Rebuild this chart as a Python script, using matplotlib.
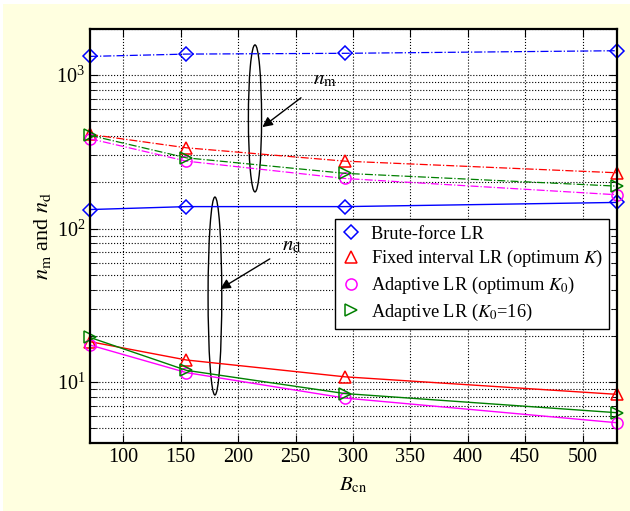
import matplotlib
matplotlib.use("Agg")
import matplotlib.pyplot as plt
from matplotlib.lines import Line2D
from matplotlib.patches import Ellipse, Rectangle

plt.rcParams['font.family'] = ['Liberation Serif', 'DejaVu Serif']
plt.rcParams['mathtext.fontset'] = 'stix'

B_cn = [71, 155, 293, 530]

# n_m (dash-dot) curves
bf_nm = [1325, 1372, 1388, 1443]
fixed_nm = [411, 336, 275, 231]
adapt_opt_nm = [385, 275, 212, 166]
adapt16_nm = [405, 289, 229, 189]

# n_d (solid) curves
bf_nd = [133, 139, 139, 148]
fixed_nd = [18.3, 13.9, 10.8, 8.3]
adapt_opt_nd = [17.4, 11.5, 7.85, 5.42]
adapt16_nd = [19.5, 11.9, 8.4, 6.3]

labels = ['Brute-force LR',
          'Fixed interval LR (optimum $K$)',
          'Adaptive LR (optimum $K_0$)',
          'Adaptive LR ($K_0$=16)']
colors = ['#0000ff', '#ff0000', '#ff00ff', '#008000']
markers = ['D', '^', 'o', '>']
sizes = [7.5, 9, 8, 9]

fig = plt.figure(figsize=(6.3, 5.11), dpi=100, facecolor='white')
fig.patches.append(Rectangle((3 / 630, 0), 1, 1 - 4 / 511, transform=fig.transFigure,
                             facecolor='#ffffe0', edgecolor='none', zorder=-10))
ax = fig.add_axes([0.1429, 0.1331, 0.8365, 0.8102])

nm_sets = [bf_nm, fixed_nm, adapt_opt_nm, adapt16_nm]
nd_sets = [bf_nd, fixed_nd, adapt_opt_nd, adapt16_nd]
for i in range(4):
    mk = dict(marker=markers[i], markersize=sizes[i], markerfacecolor='none',
              markeredgecolor=colors[i], markeredgewidth=1.1, clip_on=False)
    ax.plot(B_cn, nm_sets[i], color=colors[i], linestyle='-.', linewidth=0.9, **mk)
    ax.plot(B_cn, nd_sets[i], color=colors[i], linestyle='-', linewidth=1.0, **mk)

ax.set_yscale('log')
ax.set_xlim(71, 530)
ax.set_ylim(4, 2000)
ax.set_xticks([100, 150, 200, 250, 300, 350, 400, 450, 500])
ax.grid(True, which='major', color='black', linestyle=':', linewidth=0.8)
ax.grid(True, which='minor', axis='y', color='black', linestyle=':', linewidth=0.8)
ax.tick_params(which='both', direction='in', top=True, right=True, labelsize=14.5)
ax.tick_params(which='major', length=6)
ax.tick_params(which='minor', length=4)
for s in ax.spines.values():
    s.set_linewidth(1.6)

ax.set_xlabel('$B_{\\mathrm{cn}}$', fontsize=15, labelpad=6)
ax.set_ylabel('$n_{\\mathrm{m}}$ and $n_{\\mathrm{d}}$', fontsize=16, labelpad=2)

# ellipses grouping the curves
ax.add_patch(Ellipse((0.313, 0.784), 0.025, 0.355, transform=ax.transAxes,
                     fill=False, edgecolor='black', linewidth=1.0))
ax.add_patch(Ellipse((0.237, 0.355), 0.026, 0.478, transform=ax.transAxes,
                     fill=False, edgecolor='black', linewidth=1.0))
ax.annotate('$n_{\\mathrm{m}}$', xy=(0.327, 0.763), xytext=(0.445, 0.877),
            textcoords='axes fraction', xycoords='axes fraction', fontsize=15,
            ha='center', va='center',
            arrowprops=dict(arrowstyle='-|>', color='black', lw=1.0, shrinkA=8, shrinkB=0))
ax.annotate('$n_{\\mathrm{d}}$', xy=(0.247, 0.372), xytext=(0.383, 0.477),
            textcoords='axes fraction', xycoords='axes fraction', fontsize=15,
            ha='center', va='center',
            arrowprops=dict(arrowstyle='-|>', color='black', lw=1.0, shrinkA=8, shrinkB=0))

handles = [Line2D([], [], linestyle='none', marker=markers[i], markersize=sizes[i],
                  markerfacecolor='none', markeredgecolor=colors[i],
                  markeredgewidth=1.1) for i in range(4)]
leg = ax.legend(handles, labels, loc='upper right', bbox_to_anchor=(0.985, 0.54),
                fontsize=13.2, frameon=True, fancybox=False, handlelength=1.0,
                handletextpad=0.6, borderpad=0.35, labelspacing=0.3, borderaxespad=0)
leg.get_frame().set_edgecolor('black')
leg.get_frame().set_linewidth(1.0)
leg.get_frame().set_alpha(1)

fig.savefig('out.png', dpi=100, facecolor=fig.get_facecolor())
